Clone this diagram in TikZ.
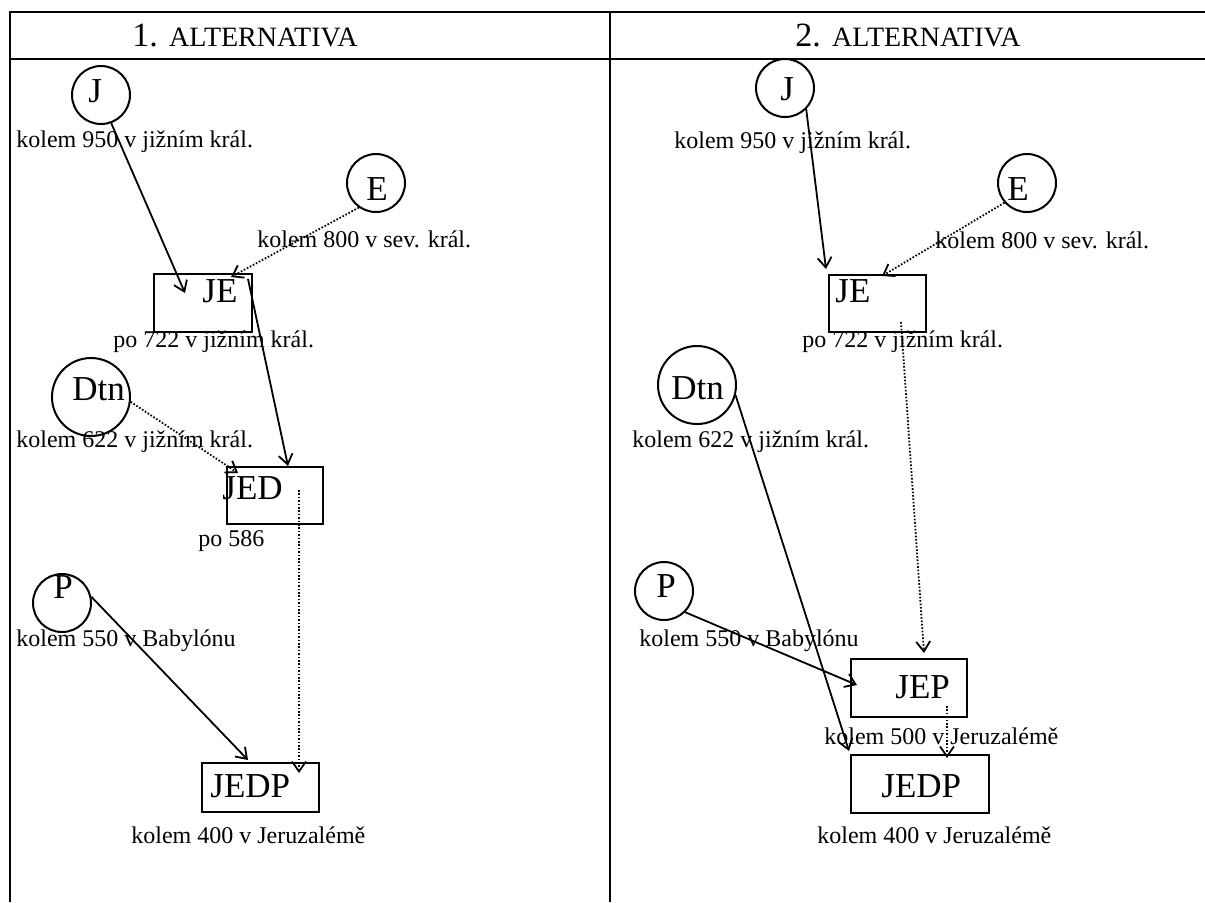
\documentclass[tikz,border=0pt]{standalone}
\usepackage{fontspec}
\setmainfont{Liberation Serif}
\usetikzlibrary{arrows.meta}
\usetikzlibrary{positioning}

\begin{document}
\begin{tikzpicture}[x=0.5pt, y=-0.5pt,
	src/.style={draw, circle, line width=1pt, inner sep=0pt, minimum size=29pt},
	srcbig/.style={src, minimum size=39pt},
	doc/.style={draw, rectangle, line width=1pt, inner sep=0pt},
	big/.style={anchor=base west, inner sep=0pt, font=\fontsize{17.5}{20}\selectfont},
	lbl/.style={anchor=base west, inner sep=0pt, font=\fontsize{12}{14}\selectfont},
	hdr/.style={anchor=base west, inner sep=0pt, font=\fontsize{17}{20}\selectfont},
	dep/.style={line width=0.9pt, -{Straight Barb[length=5pt, width=7pt]}},
	dep2/.style={dep, dash pattern=on 0.8pt off 0.9pt},
	]
	\useasboundingbox (0,0) rectangle (1205,902);
	
	% table
	\draw[line width=1.3pt] (10,902) -- (10,12) -- (1205,12);
	\draw[line width=1.3pt] (10,59) -- (1205,59);
	\draw[line width=1.3pt] (610,12) -- (610,902);
	\node[hdr] (hA) at (132,46) {1. {\fontsize{14}{16}\selectfont ALTERNATIVA}};
	\node[hdr] (hB) at (795,46) {2. {\fontsize{14}{16}\selectfont ALTERNATIVA}};
	
	% 1. alternativa
	\node[src] (jA) at (101,95) {};
	\node[big] (jAt) at (88,102) {J};
	\node[lbl] (jAl) at (16,147) {kolem 950 v jižním král.};
	
	\node[src] (eA) at (376,183) {};
	\node[big] (eAt) at (366,200) {E};
	\node[lbl] (eAl) at (257,247) {kolem 800 v sev. král.};
	
	\node[doc, minimum width=49pt, minimum height=29pt] (jeA) at (203,303) {};
	\node[big] (jeAt) at (202,302) {JE};
	\node[lbl] (jeAl) at (113,347) {po 722 v jižním král.};
	
	\node[srcbig] (dA) at (91,397) {};
	\node[big] (dAt) at (72,400) {Dtn};
	\node[lbl] (dAl) at (16,447) {kolem 622 v jižním král.};
	
	\node[doc, minimum width=48pt, minimum height=28.5pt] (jedA) at (275,495.5) {};
	\node[big] (jedAt) at (222,499) {JED};
	\node[lbl] (jedAl) at (198,546) {po 586};
	
	\node[src] (pA) at (62,603) {};
	\node[big] (pAt) at (53,598) {P};
	\node[lbl] (pAl) at (16,646) {kolem 550 v Babylónu};
	
	\node[doc, minimum width=58.5pt, minimum height=24.5pt] (jedpA) at (260.5,787.5) {};
	\node[big] (jedpAt) at (210,797) {JEDP};
	\node[lbl] (jedpAl) at (131,843) {kolem 400 v Jeruzalémě};
	
	\coordinate (jeAin) at (185,293);
	\coordinate (jeAtop) at (231,277);
	\coordinate (jeAout) at (248,279);
	\coordinate (jedAin) at (288,466);
	\coordinate (jedAtop) at (238,473);
	\coordinate (jedAout) at (299,490);
	\coordinate (jedpAin) at (299,773);
	\coordinate (jedpAtop) at (248,760);
	
	\draw[dep] (jA.-70) -- (jeAin);
	\draw[dep2] (eA.-125) -- (jeAtop);
	\draw[dep] (jeAout) -- (jedAin);
	\draw[dep2] (dA.-7) -- (jedAtop);
	\draw[dep2] (jedAout) -- (jedpAin);
	\draw[dep] (pA.12) -- (jedpAtop);
	
	% 2. alternativa
	\node[src] (jB) at (785,88) {};
	\node[big] (jBt) at (780,100) {J};
	\node[lbl] (jBl) at (674,148) {kolem 950 v jižním král.};
	
	\node[src] (eB) at (1027,183) {};
	\node[big] (eBt) at (1007,200) {E};
	\node[lbl] (eBl) at (935,248) {kolem 800 v sev. král.};
	
	\node[doc, minimum width=48.5pt, minimum height=28.5pt] (jeB) at (877.5,303.5) {};
	\node[big] (jeBt) at (835,302) {JE};
	\node[lbl] (jeBl) at (802,347) {po 722 v jižním král.};
	
	\node[srcbig] (dB) at (697,385) {};
	\node[big] (dBt) at (671,399) {Dtn};
	\node[lbl] (dBl) at (632,447) {kolem 622 v jižním král.};
	
	\node[src] (pB) at (664,591) {};
	\node[big] (pBt) at (656,597) {P};
	\node[lbl] (pBl) at (639,646) {kolem 550 v Babylónu};
	
	\node[doc, minimum width=58pt, minimum height=29pt] (jepB) at (909,688) {};
	\node[big] (jepBt) at (895,698) {JEP};
	\node[lbl] (jepBl) at (824,744) {kolem 500 v Jeruzalémě};
	
	\node[doc, minimum width=69pt, minimum height=29pt] (jedpB) at (920,784) {};
	\node[big] (jedpBt) at (881,797) {JEDP};
	\node[lbl] (jedpBl) at (817,843) {kolem 400 v Jeruzalémě};
	
	\coordinate (jeBin) at (826,269);
	\coordinate (jeBtop) at (882,276);
	\coordinate (jeBout) at (901,322);
	\coordinate (jepBin) at (924,653);
	\coordinate (jepBleft) at (857,685);
	\coordinate (jepBout) at (947,706);
	\coordinate (jedpBin) at (849,751);
	\coordinate (jedpBtop) at (947,758);
	
	\draw[dep] (jB.-45) -- (jeBin);
	\draw[dep2] (eB.-139) -- (jeBtop);
	\draw[dep2] (jeBout) -- (jepBin);
	\draw[dep] (dB.-15) -- (jedpBin);
	\draw[dep] (pB.-45) -- (jepBleft);
	\draw[dep2] (jepBout) -- (jedpBtop);
\end{tikzpicture}
\end{document}
